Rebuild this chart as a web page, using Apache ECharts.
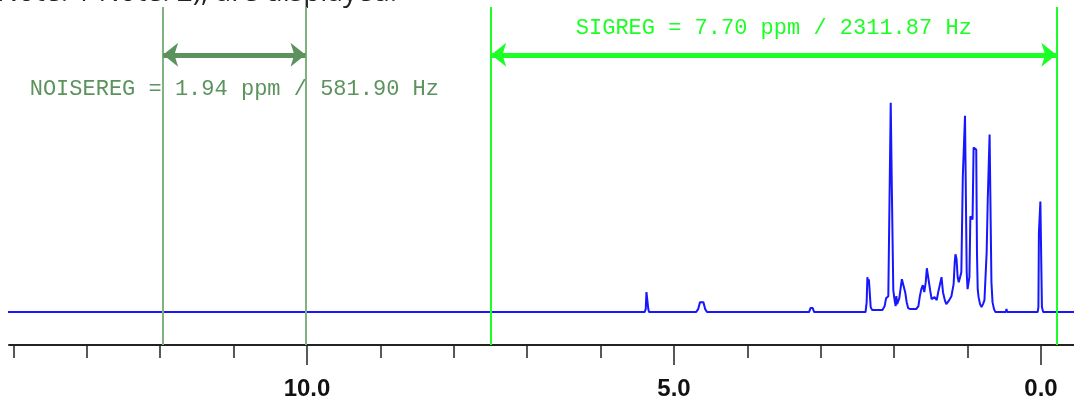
<!DOCTYPE html>
<html>
<head>
<meta charset="utf-8">
<script src="https://cdn.jsdelivr.net/npm/echarts@6/dist/echarts.min.js"></script>
<style>
html,body{margin:0;padding:0;background:#fff;}
#chart{width:1074px;height:401px;}
</style>
</head>
<body>
<div id="chart"></div>
<script>
// ---- data (ppm, relative intensity) ----
const ppmRange = [-0.45, 14.06];
const minorTicks = [0,1,2,3,4,5,6,7,8,9,10,11,12,13,14];
const majorTicks = [0,5,10];
const noiseRegion = [11.96, 10.02];
const sigRegion = [7.49, -0.21];
const noiseLabel = 'NOISEREG = 1.94 ppm / 581.90 Hz';
const sigLabel = 'SIGREG = 7.70 ppm / 2311.87 Hz';
const arrowLevel = 258;
const noiseLabelLevel = 224;
const sigLabelLevel = 285;
const topNote = 'Note: 1 Note: 2), are displayed.';

const spectrum = [
  [14.1,0],[7.29,0],[7.28,2],[7.27,2],[7.26,0],
  [5.40,0],[5.385,3],[5.375,20],[5.36,20],[5.35,3],[5.34,0],
  [4.70,0],[4.67,3],[4.645,10],[4.60,10],[4.575,3],[4.55,0],
  [3.16,0],[3.14,4],[3.11,4],[3.09,0],
  [2.39,0],[2.375,10],[2.365,35],[2.355,30],[2.345,33],[2.335,22],[2.32,5],[2.30,2],
  [2.16,2],[2.13,6],[2.11,14],[2.08,16],[2.06,18],
  [2.047,210],[2.04,210],[2.032,125],[2.022,125],[2.012,22],
  [2.00,15],[1.99,10],[1.98,6],[1.97,16],[1.96,8],
  [1.93,14],[1.91,25],[1.895,33],[1.875,33],[1.85,20],[1.83,10],[1.81,4],
  [1.78,3],[1.70,3],[1.67,6],
  [1.65,16],[1.63,23],[1.61,27],[1.59,20],[1.57,30],[1.555,44],[1.535,44],[1.51,22],[1.49,13],
  [1.47,12],[1.45,15],[1.42,12],[1.40,20],[1.37,30],[1.355,35],[1.335,20],[1.31,12],
  [1.29,8],[1.27,10],[1.25,12],[1.22,16],
  [1.19,28],[1.175,50],[1.165,58],[1.15,53],[1.135,35],[1.12,30],
  [1.10,30],[1.085,40],
  [1.065,136],[1.05,136],[1.035,197],[1.022,197],[1.012,40],
  [1.00,23],[0.985,25],[0.975,35],
  [0.962,96],[0.948,96],[0.932,93],[0.918,165],[0.898,165],[0.882,163],[0.872,60],[0.862,23],
  [0.85,15],[0.83,8],[0.81,5],[0.79,8],[0.77,12],
  [0.74,60],[0.725,113],[0.71,113],[0.70,178],[0.685,178],[0.675,30],[0.66,10],[0.64,3],[0.62,0],
  [0.48,0],[0.47,3],[0.46,0],
  [0.045,0],[0.035,5],[0.028,80],[0.015,80],[0.008,111],[-0.003,111],[-0.013,5],[-0.03,0],
  [-0.46,0]
];

// ---- chart ----
const noiseColor = '#5b925d';
const noiseLineColor = '#7fb280';
const sigColor = '#1cff24';
const monoFont = '"Liberation Mono", "Courier New", monospace';

function arrowSeries(region, color, labelText, labelLevel) {
  return {
    type:'scatter', xAxisIndex:0, symbolSize:0, silent:true, color:color,
    itemStyle:{opacity:1, color:color},
    data:[{value:[(region[0]+region[1])/2, labelLevel], name:labelText}],
    label:{show:true, position:'inside', formatter:'{b}', fontFamily:monoFont, fontSize:22, color:color},
    markLine:{
      silent:true, symbol:['arrow','arrow'], symbolSize:[18,15], label:{show:false},
      lineStyle:{color:color, width:5, type:'solid', opacity:1},
      itemStyle:{color:color},
      emphasis:{disabled:true},
      data:[[{coord:[region[0], arrowLevel]}, {coord:[region[1], arrowLevel]}]]
    }
  };
}

const chart = echarts.init(document.getElementById('chart'), null, {renderer:'canvas'});
chart.setOption({
  animation:false,
  backgroundColor:'#ffffff',
  graphic:[{
    type:'text', left:-3, top:-21,
    style:{text:topNote, font:'28px "Open Sans", sans-serif', fill:'#222'}
  }],
  grid:{left:9, right:0, top:7, bottom:55},
  xAxis:[{
    type:'value', inverse:true, min:ppmRange[0], max:ppmRange[1],
    position:'bottom',
    axisLine:{show:true, onZero:false, lineStyle:{color:'#222', width:2}},
    axisTick:{show:true, length:13, customValues:minorTicks, lineStyle:{color:'#222', width:1.5}},
    axisLabel:{show:false},
    splitLine:{show:false}
  },{
    type:'value', inverse:true, min:ppmRange[0], max:ppmRange[1],
    position:'bottom',
    axisLine:{show:false, onZero:false},
    axisTick:{show:true, length:20, customValues:majorTicks, lineStyle:{color:'#222', width:1.5}},
    axisLabel:{show:true, customValues:majorTicks, margin:32,
      formatter:v=>v.toFixed(1),
      fontFamily:'"Liberation Sans", Arial, sans-serif', fontWeight:'bold', fontSize:24, color:'#111'},
    splitLine:{show:false}
  }],
  yAxis:{type:'value', min:-33, max:306, show:false},
  series:[{
    type:'line', xAxisIndex:0, data:spectrum, showSymbol:false, symbol:'none',
    lineStyle:{color:'#1616ff', width:2}, silent:true,
    markLine:{
      silent:true, symbol:['none','none'], label:{show:false},
      data:[
        {xAxis:noiseRegion[0], lineStyle:{color:noiseLineColor, width:2, type:'solid'}},
        {xAxis:noiseRegion[1], lineStyle:{color:noiseLineColor, width:2, type:'solid'}},
        {xAxis:sigRegion[0], lineStyle:{color:sigColor, width:2, type:'solid'}},
        {xAxis:sigRegion[1], lineStyle:{color:sigColor, width:2, type:'solid'}}
      ]
    }
  },
  arrowSeries(noiseRegion, noiseColor, noiseLabel, noiseLabelLevel),
  arrowSeries(sigRegion, sigColor, sigLabel, sigLabelLevel)
  ]
});
</script>
</body>
</html>
